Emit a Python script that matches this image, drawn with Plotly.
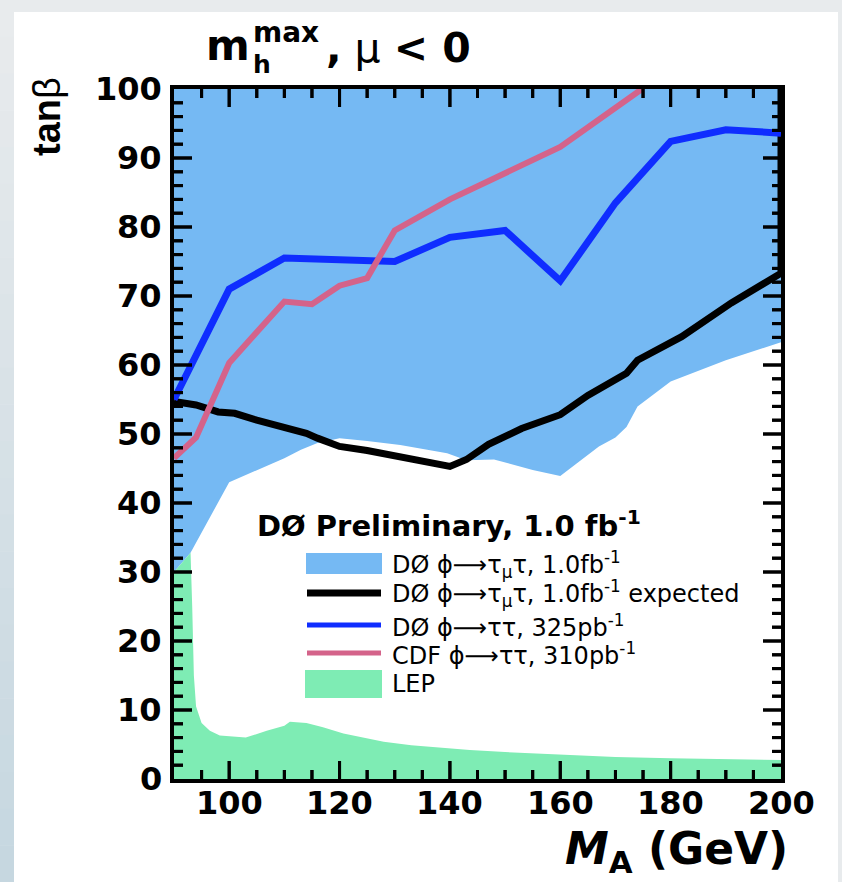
import plotly.graph_objects as go

# ---------------- data ----------------
# LEP excluded region: upper boundary
lep_mass = [90, 93.0, 93.3, 93.6, 94.0, 95.0, 96.5, 98.3, 103, 106.8, 110, 111, 114, 117, 120.7,
            128, 133, 143.6, 150, 160, 170, 180, 190, 200]
lep_tanb = [30.0, 32.8, 25, 15, 10.5, 8.1, 7.0, 6.3, 6.0, 7.0, 7.7, 8.3, 8.1, 7.5, 6.6,
            5.4, 4.9, 4.2, 3.9, 3.5, 3.2, 3.0, 2.9, 2.75]

# D0 phi->tau_mu tau 1.0 fb-1 excluded region: lower boundary (excluded above)
d0_excl_mass = [90, 93, 100, 105, 110, 113, 116, 120, 125, 131, 139.5, 143, 148, 155, 160,
                167, 170, 172, 174, 180, 190, 200]
d0_excl_tanb = [30.0, 32.8, 43, 44.8, 46.5, 47.7, 48.7, 49.4, 49.0, 48.4, 47.2, 46.2, 46.3, 44.8, 43.9,
                48.2, 49.5, 51, 54, 57.6, 60.7, 63.3]

# D0 expected limit 1.0 fb-1
exp_mass = [90, 94, 98, 101, 105, 110, 114, 116, 120, 125, 131, 140, 143, 147, 153, 160,
            165, 172, 174, 182, 191, 200, 200]
exp_tanb = [54.7, 54.2, 53.2, 53.0, 52.0, 51.0, 50.1, 49.4, 48.2, 47.6, 46.7, 45.3, 46.3, 48.5, 50.8, 52.8,
            55.6, 58.8, 60.7, 64.1, 69.0, 73.3, 100]

# D0 phi->tautau 325 pb-1
d0_325_mass = [90, 100, 110, 120, 130, 140, 150, 160, 170, 180, 190, 200]
d0_325_tanb = [55.0, 71.0, 75.5, 75.3, 75.0, 78.5, 79.5, 72.2, 83.5, 92.4, 94.1, 93.6]

# CDF phi->tautau 310 pb-1
cdf_mass = [90, 94, 100, 110, 115, 120, 125, 130, 140, 150, 160, 174.8]
cdf_tanb = [46.5, 49.5, 60.3, 69.2, 68.8, 71.5, 72.6, 79.5, 84.0, 87.8, 91.6, 100.0]

# axis ticks and labels
x_ticks = [100, 120, 140, 160, 180, 200]
x_tick_text = ["100", "120", "140", "160", "180", "200"]
x_minor_step = 5
y_ticks = [0, 10, 20, 30, 40, 50, 60, 70, 80, 90, 100]
y_tick_text = ["0", "10", "20", "30", "40", "50", "60", "70", "80", "90", "100"]
y_minor_step = 2
x_range = [90, 200]
y_range = [0, 100]

# ---------------- styling ----------------
W_PX, H_PX = 842, 882
L, R, T, B = 174, 781, 89, 779
PW, PH = R - L, B - T

BLUE_FILL = "#75b9f3"
GREEN_FILL = "#7eecb4"
BLUE_LINE = "#0f2dff"
PINK_LINE = "#d4638a"
FONT = "DejaVu Sans"
MAJOR_LEN, MINOR_LEN, TICK_W = 18, 9, 3


def px_x(px):
    return (px - L) / PW


def px_y(py):
    return (B - py) / PH


fig = go.Figure()

fig.add_trace(go.Scatter(
    x=d0_excl_mass + [x_range[1], x_range[0]],
    y=d0_excl_tanb + [y_range[1], y_range[1]],
    fill="toself", fillcolor=BLUE_FILL, mode="lines", line=dict(width=0),
    hoverinfo="skip", showlegend=False))
fig.add_trace(go.Scatter(
    x=lep_mass, y=lep_tanb, fill="tozeroy", fillcolor=GREEN_FILL, mode="lines",
    line=dict(width=0), hoverinfo="skip", showlegend=False))
fig.add_trace(go.Scatter(x=exp_mass, y=exp_tanb, mode="lines",
                         line=dict(color="black", width=7), showlegend=False))
fig.add_trace(go.Scatter(x=d0_325_mass, y=d0_325_tanb, mode="lines",
                         line=dict(color=BLUE_LINE, width=7), showlegend=False))
fig.add_trace(go.Scatter(x=cdf_mass, y=cdf_tanb, mode="lines",
                         line=dict(color=PINK_LINE, width=6), showlegend=False))

# inward ticks on all four sides, drawn on the axis scales (tick length converted from px)
x_unit_px = PW / (x_range[1] - x_range[0])
y_unit_px = PH / (y_range[1] - y_range[0])
x_minor = [x_range[0] + i * x_minor_step
           for i in range(1, int(round((x_range[1] - x_range[0]) / x_minor_step)))]
y_minor = [y_range[0] + i * y_minor_step
           for i in range(1, int(round((y_range[1] - y_range[0]) / y_minor_step)))]
tx, ty = [], []
for v in x_minor:
    dy = (MAJOR_LEN if v in x_ticks else MINOR_LEN) / y_unit_px
    tx += [v, v, None, v, v, None]
    ty += [y_range[0], y_range[0] + dy, None, y_range[1], y_range[1] - dy, None]
for v in y_minor:
    dx = (MAJOR_LEN if v in y_ticks else MINOR_LEN) / x_unit_px
    tx += [x_range[0], x_range[0] + dx, None, x_range[1], x_range[1] - dx, None]
    ty += [v, v, None, v, v, None]
fig.add_trace(go.Scatter(x=tx, y=ty, mode="lines", connectgaps=False,
                         line=dict(color="black", width=TICK_W, simplify=False),
                         hoverinfo="skip", showlegend=False))

fig.update_xaxes(range=x_range, showline=True, linewidth=4, linecolor="black", mirror=True,
                 ticks="", showticklabels=False, showgrid=False, zeroline=False)
fig.update_yaxes(range=y_range, showline=True, linewidth=4, linecolor="black", mirror=True,
                 ticks="", showticklabels=False, showgrid=False, zeroline=False)

shapes = []
# slide background
shapes.append(dict(type="rect", xref="paper", yref="paper", x0=px_x(0), x1=px_x(W_PX),
                   y0=px_y(12), y1=px_y(0), fillcolor="#e8ebed", line=dict(width=0), layer="below"))
shapes.append(dict(type="rect", xref="paper", yref="paper", x0=px_x(838), x1=px_x(W_PX),
                   y0=px_y(H_PX), y1=px_y(0), fillcolor="#e8ebed", line=dict(width=0), layer="below"))
n_seg = 24
c_top = (232, 235, 237)
c_bot = (198, 215, 224)
for i in range(n_seg):
    f = i / (n_seg - 1)
    c = tuple(int(round(c_top[k] + (c_bot[k] - c_top[k]) * f)) for k in range(3))
    y0p = H_PX * i / n_seg
    y1p = H_PX * (i + 1) / n_seg
    shapes.append(dict(type="rect", xref="paper", yref="paper", x0=px_x(0), x1=px_x(14),
                       y0=px_y(y1p + 0.5), y1=px_y(y0p), fillcolor="rgb(%d,%d,%d)" % c,
                       line=dict(width=0), layer="below"))

# tick marks also as paper-referenced shapes (positions from the axis ranges)
tick_line = dict(color="black", width=TICK_W)
for v in x_minor:
    ln = MAJOR_LEN if v in x_ticks else MINOR_LEN
    xp = (v - x_range[0]) / (x_range[1] - x_range[0])
    shapes.append(dict(type="line", xref="paper", yref="paper", x0=xp, x1=xp,
                       y0=0, y1=ln / PH, line=tick_line, layer="above"))
    shapes.append(dict(type="line", xref="paper", yref="paper", x0=xp, x1=xp,
                       y0=1, y1=1 - ln / PH, line=tick_line, layer="above"))
for v in y_minor:
    ln = MAJOR_LEN if v in y_ticks else MINOR_LEN
    yp = (v - y_range[0]) / (y_range[1] - y_range[0])
    shapes.append(dict(type="line", xref="paper", yref="paper", x0=0, x1=ln / PW,
                       y0=yp, y1=yp, line=tick_line, layer="above"))
    shapes.append(dict(type="line", xref="paper", yref="paper", x0=1, x1=1 - ln / PW,
                       y0=yp, y1=yp, line=tick_line, layer="above"))

# legend swatches
shapes.append(dict(type="rect", xref="paper", yref="paper", x0=px_x(306), x1=px_x(382),
                   y0=px_y(574), y1=px_y(553), fillcolor=BLUE_FILL, line=dict(width=0)))
shapes.append(dict(type="line", xref="paper", yref="paper", x0=px_x(307), x1=px_x(381),
                   y0=px_y(593), y1=px_y(593), line=dict(color="black", width=7)))
shapes.append(dict(type="line", xref="paper", yref="paper", x0=px_x(307), x1=px_x(381),
                   y0=px_y(625), y1=px_y(625), line=dict(color=BLUE_LINE, width=5)))
shapes.append(dict(type="line", xref="paper", yref="paper", x0=px_x(307), x1=px_x(381),
                   y0=px_y(653), y1=px_y(653), line=dict(color=PINK_LINE, width=5)))
shapes.append(dict(type="rect", xref="paper", yref="paper", x0=px_x(305), x1=px_x(382),
                   y0=px_y(698), y1=px_y(670), fillcolor=GREEN_FILL, line=dict(width=0)))

annotations = []


def ann(text, xpx, ypx, size, xanchor="left", yanchor="middle", angle=0, family=FONT):
    annotations.append(dict(text=text, xref="paper", yref="paper", x=px_x(xpx), y=px_y(ypx),
                            xanchor=xanchor, yanchor=yanchor, showarrow=False, textangle=angle,
                            font=dict(family=family, size=size, color="black")))


tickfont = dict(family=FONT, size=32, color="black", weight="bold")
for v, t in zip(x_ticks, x_tick_text):
    annotations.append(dict(text=t, xref="x", yref="paper", x=v, y=px_y(803),
                            xanchor="center", yanchor="middle", showarrow=False, font=tickfont))
for v, t in zip(y_ticks, y_tick_text):
    annotations.append(dict(text=t, xref="paper", yref="y", x=px_x(164), y=v,
                            xanchor="right", yanchor="middle", showarrow=False, font=tickfont))

ann("<b>DØ Preliminary, 1.0 fb<sup>-1</sup></b>", 255, 524, 29)
leg_rows = [
    ("DØ ϕ⟶τ<sub>μ</sub>τ, 1.0fb<sup>-1</sup>", 564),
    ("DØ ϕ⟶τ<sub>μ</sub>τ, 1.0fb<sup>-1</sup> expected", 593),
    ("DØ ϕ⟶ττ, 325pb<sup>-1</sup>", 626),
    ("CDF ϕ⟶ττ, 310pb<sup>-1</sup>", 654),
    ("LEP", 684),
]
for txt, ypx in leg_rows:
    ann(txt, 390, ypx, 24)

# title pieces
ann("<b>m</b>", 252, 46, 42, xanchor="right")
ann("<b>max</b>", 251, 33, 28)
ann("<b>h</b>", 251, 64, 25)
ann("<b>,</b> μ <b>&lt; 0</b>", 324, 48, 41)

# axis titles
ann("<b><i>M</i></b><sub><b>A</b></sub><b> (GeV)</b>", 790, 851, 44, xanchor="right")
ann("<b>tan</b>β", 47, 117, 38, xanchor="center", angle=-90, family="Liberation Sans")

fig.update_layout(width=W_PX, height=H_PX, autosize=False,
                  margin=dict(l=L, r=W_PX - R, t=T, b=H_PX - B, pad=0),
                  paper_bgcolor="white", plot_bgcolor="white",
                  shapes=shapes, annotations=annotations, showlegend=False)

fig.write_html("out.html")
